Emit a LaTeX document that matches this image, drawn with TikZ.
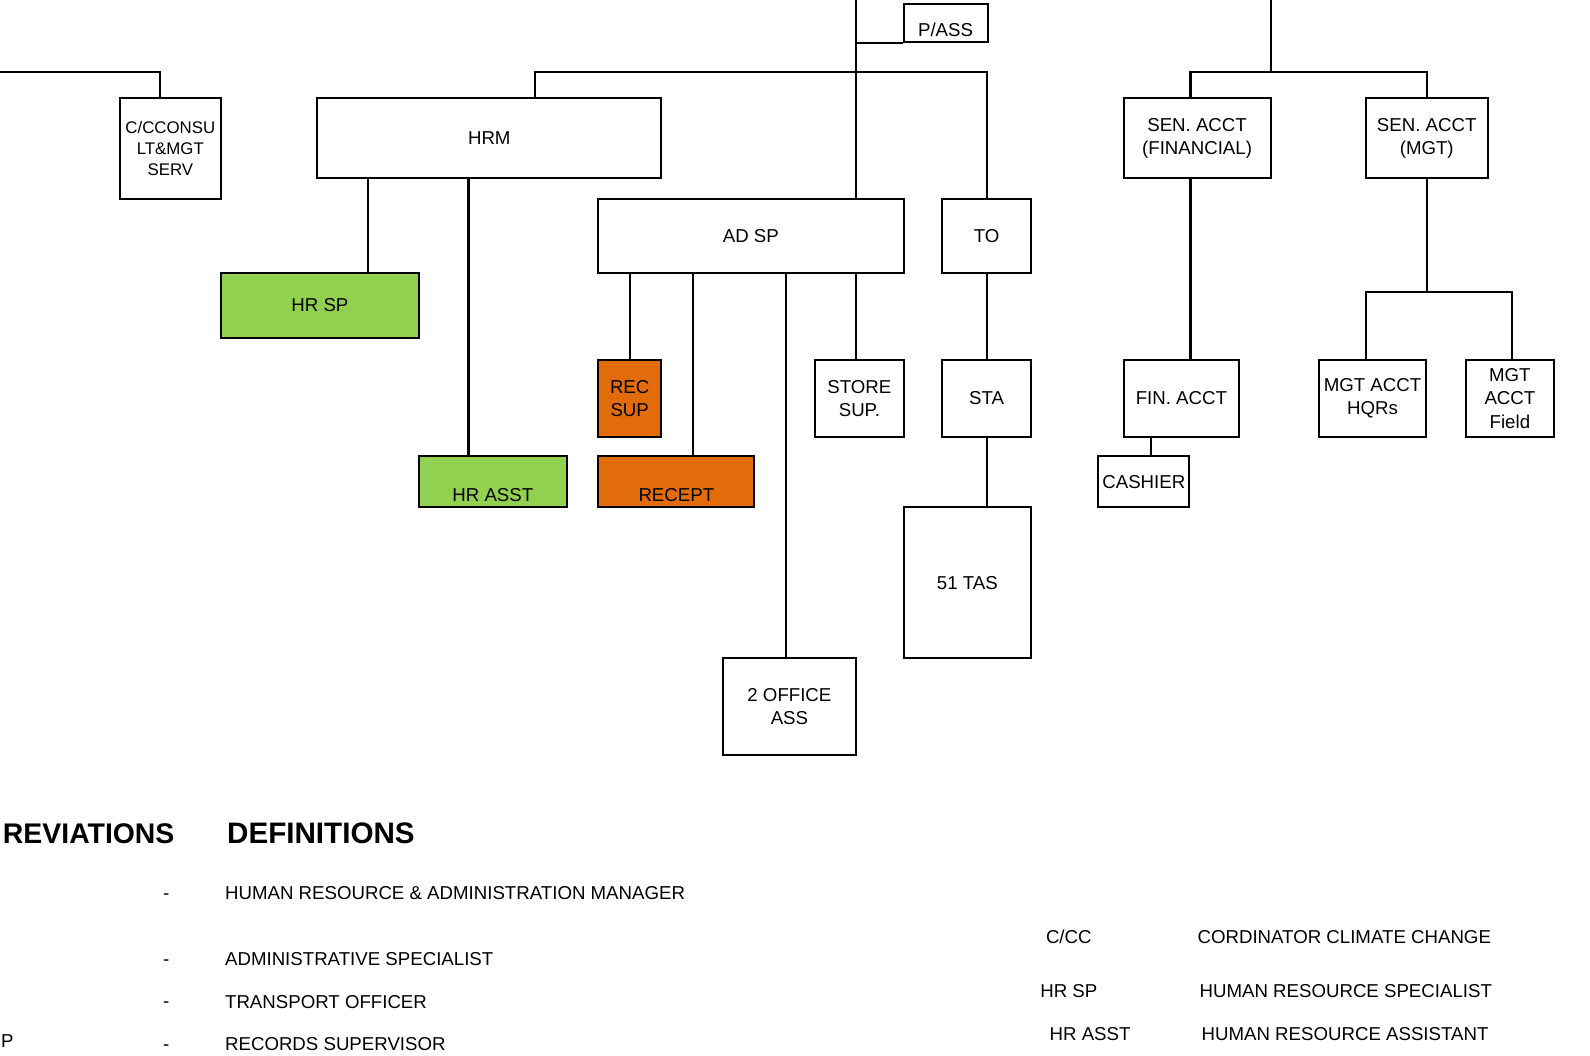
\documentclass[tikz,border=0pt]{standalone}
\usepackage{fontspec}
\setmainfont{Liberation Sans}
\usetikzlibrary{positioning}
\definecolor{hrgreen}{RGB}{146,208,80}
\definecolor{recorange}{RGB}{227,108,10}
\tikzset{
  post/.style={draw,line width=1pt,inner sep=0pt,align=center},
  hrpost/.style={post,fill=hrgreen},
  recpost/.style={post,fill=recorange},
  legend/.style={inner sep=0pt},
  heading/.style={inner sep=0pt,font=\bfseries\fontsize{14.6}{16}\selectfont}
}
\begin{document}
\begin{tikzpicture}[x=0.5pt,y=-0.5pt,line width=1pt,
  every node/.append style={font=\fontsize{9.2}{11.5}\selectfont}]
\useasboundingbox (0,0) rectangle (1568,1041);

% boxes of the chart
\node[post,minimum width=50pt,minimum height=49.5pt,font=\fontsize{8.3}{10.5}\selectfont] (ccc) at (168,146.5) {C/CCONSU\\LT\&MGT\\SERV};
\node[post,minimum width=41.5pt,minimum height=18.5pt,text height=13pt,text depth=0pt] (pass) at (932.5,22.5) {P/ASS};
\node[post,minimum width=169.5pt,minimum height=39.5pt] (hrm) at (482.5,136.5) {HRM};
\node[hrpost,minimum width=97.5pt,minimum height=32pt] (hrsp) at (315.5,301) {HR SP};
\node[hrpost,minimum width=73pt,minimum height=25pt,text height=19.6pt,text depth=0pt] (hrasst) at (486,475) {HR ASST};
\node[post,minimum width=150.5pt,minimum height=36.5pt] (adsp) at (740.5,232.5) {AD SP};
\node[post,minimum width=44pt,minimum height=36.5pt] (to) at (973,232.5) {TO};
\node[recpost,minimum width=31pt,minimum height=38pt] (recsup) at (621,393) {REC\\SUP};
\node[recpost,minimum width=77pt,minimum height=25pt,text height=19.6pt,text depth=0pt] (recept) at (667,475) {RECEPT};
\node[post,minimum width=43.5pt,minimum height=38pt] (storesup) at (847.5,393) {STORE\\SUP.};
\node[post,minimum width=44pt,minimum height=38pt] (sta) at (973,393) {STA};
\node[post,minimum width=63pt,minimum height=74.5pt] (tas) at (954,574.5) {51 TAS};
\node[post,minimum width=65.5pt,minimum height=48pt] (office) at (778.5,697) {2 OFFICE\\ASS};
\node[post,minimum width=72.5pt,minimum height=39.5pt] (senfin) at (1180.5,136.5) {SEN. ACCT\\(FINANCIAL)};
\node[post,minimum width=60pt,minimum height=39.5pt] (senmgt) at (1407,136.5) {SEN. ACCT\\(MGT)};
\node[post,minimum width=57pt,minimum height=38pt] (finacct) at (1165,393) {FIN. ACCT};
\node[post,minimum width=45pt,minimum height=25pt] (cashier) at (1128,475) {CASHIER};
\node[post,minimum width=52.5pt,minimum height=38pt] (mgthq) at (1353.5,393) {MGT ACCT\\HQRs};
\node[post,minimum width=43pt,minimum height=38pt] (mgtfield) at (1489,393) {MGT\\ACCT\\Field};

% junctions
\coordinate (lefttop) at (0,71);
\coordinate (trunk) at (844,0);
\coordinate (bus) at (844,71);
\coordinate (rtrunk) at (1253,0);
\coordinate (rbus) at (1253,71);
\coordinate (mbus) at (1406,288);

% connectors
\draw (lefttop) -| ([xshift=-5pt]ccc.north);
\draw (trunk) -- (trunk |- adsp.north);
\draw (trunk |- pass.south) -- (pass.south west);
\draw ([xshift=22.75pt]hrm.north) |- (bus) -| (to.north);
\draw ([xshift=23.75pt]hrsp.north) -- ([xshift=23.75pt]hrsp.north |- hrm.south);
\draw ([xshift=-12pt]hrasst.north) -- ([xshift=-12pt]hrasst.north |- hrm.south);
\draw (recsup.north) -- (recsup.north |- adsp.south);
\draw ([xshift=8pt]recept.north) -- ([xshift=8pt]recept.north |- adsp.south);
\draw ([xshift=-1.75pt]office.north) -- ([xshift=-1.75pt]office.north |- adsp.south);
\draw ([xshift=-1.75pt]storesup.north) -- ([xshift=-1.75pt]storesup.north |- adsp.south);
\draw (to.south) -- (sta.north);
\draw (sta.south) -- (sta.south |- tas.north);
\draw (rtrunk) -- (rbus);
\draw ([xshift=-3.25pt]senfin.north) |- (rbus) -| (senmgt.north);
\draw ([xshift=-3.25pt]senfin.south) -- ([xshift=-3.25pt]senfin.south |- finacct.north);
\draw ([xshift=3.5pt]cashier.north) -- ([xshift=3.5pt]cashier.north |- finacct.south);
\draw (senmgt.south) -- (senmgt.south |- mbus);
\draw ([xshift=-3.25pt]mgthq.north) |- (mbus) -| ([xshift=1pt]mgtfield.north);

% legend
\node[heading,anchor=east,font=\bfseries\fontsize{14}{16}\selectfont] (abbr) at (173,822) {REVIATIONS};
\node[heading,anchor=west] (defs) at (223,822) {DEFINITIONS};
\node[legend] (d1) at (164,884) {-};
\node[legend] (d2) at (164,949) {-};
\node[legend] (d3) at (164,991) {-};
\node[legend] (d4) at (164,1033) {-};
\node[legend,anchor=west] (hradm) at (221,881) {HUMAN RESOURCE \& ADMINISTRATION MANAGER};
\node[legend,anchor=west] (adspdef) at (221,946) {ADMINISTRATIVE SPECIALIST};
\node[legend,anchor=west] (todef) at (221,988) {TRANSPORT OFFICER};
\node[legend,anchor=west] (recab) at (0,1027) {P};
\node[legend,anchor=west] (recdef) at (221,1030) {RECORDS SUPERVISOR};
\node[legend] (ccab) at (1054,924) {C/CC};
\node[legend,anchor=west] (ccdef) at (1180,924) {CORDINATOR CLIMATE CHANGE};
\node[legend] (hrspab) at (1054,977) {HR SP};
\node[legend,anchor=west] (hrspdef) at (1182,977) {HUMAN RESOURCE SPECIALIST};
\node[legend] (hrasstab) at (1075,1020) {HR ASST};
\node[legend,anchor=west] (hrasstdef) at (1184,1020) {HUMAN RESOURCE ASSISTANT};
\end{tikzpicture}
\end{document}
